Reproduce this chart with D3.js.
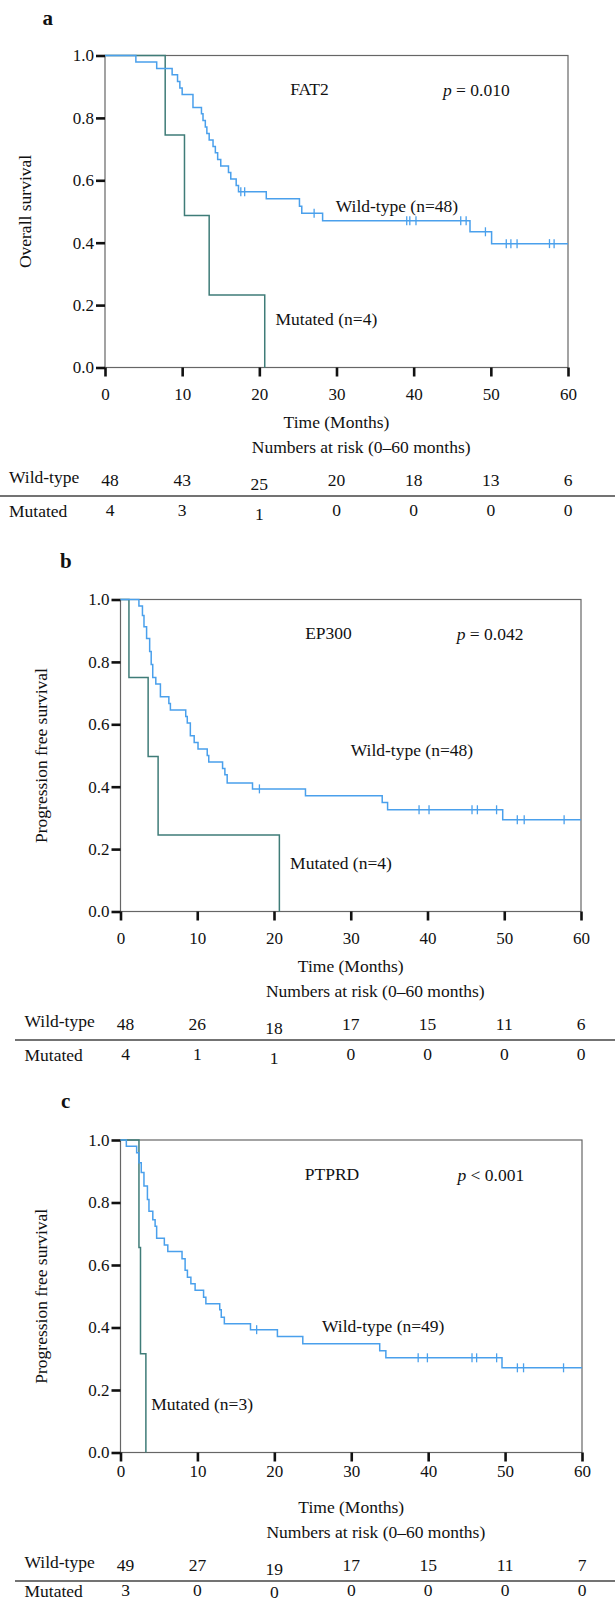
<!DOCTYPE html>
<html>
<head>
<meta charset="utf-8">
<script src="https://cdn.jsdelivr.net/npm/d3@7"></script>
<style>
  body { margin: 0; background: #fff; }
  text { font-family: "Liberation Serif", "Times New Roman", serif; fill: #111; }
</style>
</head>
<body>
<svg id="chart" width="615" height="1604"></svg>
<script>
// time grid for axis and numbers at risk
var months = [0, 10, 20, 30, 40, 50, 60];
var yTicks = [0, 0.2, 0.4, 0.6, 0.8, 1.0];

// panel a : FAT2, overall survival
var aWildT = [4.0, 6.7, 8.7, 9.4, 9.7, 10.0, 11.4, 12.5, 12.7, 13.0, 13.2, 13.5, 14.0, 14.3, 14.6, 15.0, 16.0, 16.3, 17.0, 17.3, 20.9, 25.2, 25.5, 28.2, 47.3, 50.1];
var aWildS = [0.979, 0.958, 0.938, 0.917, 0.896, 0.875, 0.833, 0.813, 0.792, 0.771, 0.75, 0.729, 0.708, 0.688, 0.667, 0.646, 0.625, 0.604, 0.583, 0.563, 0.541, 0.517, 0.494, 0.47, 0.435, 0.397];
var aWildCens = [17.6, 18.1, 27.1, 39.1, 39.5, 40.3, 46.1, 46.8, 49.3, 52.0, 52.6, 53.4, 57.6, 58.2];
var aMutT = [7.8, 10.3, 13.5, 20.7];
var aMutS = [0.745, 0.487, 0.232, 0];
var aRiskWild = [48, 43, 25, 20, 18, 13, 6];
var aRiskMut = [4, 3, 1, 0, 0, 0, 0];

// panel b : EP300, progression free survival
var bWildT = [2.4, 2.86, 3.06, 3.4, 3.8, 4.0, 4.2, 4.6, 5.2, 6.3, 6.5, 8.5, 8.7, 9.1, 9.6, 10.1, 11.3, 11.5, 13.3, 13.6, 13.9, 17.2, 24.1, 34.1, 34.8, 49.8];
var bWildS = [0.979, 0.949, 0.913, 0.875, 0.833, 0.792, 0.75, 0.729, 0.688, 0.667, 0.646, 0.625, 0.604, 0.563, 0.542, 0.521, 0.5, 0.479, 0.458, 0.438, 0.412, 0.393, 0.371, 0.349, 0.326, 0.294];
var bWildCens = [18.1, 38.9, 40.2, 45.8, 46.5, 49.0, 51.7, 52.6, 57.8];
var bMutT = [1.1, 3.6, 4.9, 20.7];
var bMutS = [0.75, 0.497, 0.245, 0];
var bRiskWild = [48, 26, 18, 17, 15, 11, 6];
var bRiskMut = [4, 1, 1, 0, 0, 0, 0];

// panel c : PTPRD, progression free survival
var cWildT = [0.76, 2.1, 2.4, 2.7, 3.05, 3.5, 3.7, 4.2, 4.5, 4.7, 5.7, 6.15, 8.0, 8.4, 8.7, 9.15, 9.7, 10.8, 11.1, 12.9, 13.1, 13.5, 16.9, 20.4, 23.7, 33.7, 34.5, 49.6];
var cWildS = [0.98, 0.959, 0.927, 0.896, 0.853, 0.81, 0.772, 0.745, 0.724, 0.686, 0.664, 0.643, 0.62, 0.583, 0.561, 0.54, 0.519, 0.497, 0.476, 0.457, 0.433, 0.412, 0.393, 0.371, 0.348, 0.326, 0.303, 0.271];
var cWildCens = [17.7, 38.7, 39.9, 45.7, 46.3, 48.9, 51.6, 52.4, 57.6];
var cMutT = [2.4, 2.6, 3.3];
var cMutS = [0.656, 0.316, 0];
var cRiskWild = [49, 27, 19, 17, 15, 11, 7];
var cRiskMut = [3, 0, 0, 0, 0, 0, 0];

var blue = "#4aa0ec", teal = "#3f7c78";
var svg = d3.select("#chart");
svg.append("rect").attr("width", 615).attr("height", 1604).attr("fill", "#fff");

function stepPoints(ts, ss, tEnd) {
    var pts = [[0, 1]];
    for (var i = 0; i < ts.length; i++) pts.push([ts[i], ss[i]]);
    if (tEnd != null) pts.push([tEnd, ss[ss.length - 1]]);
    return pts;
}
function survAt(ts, ss, t) {
    var s = 1;
    for (var i = 0; i < ts.length; i++) if (ts[i] <= t) s = ss[i];
    return s;
}

function drawPanel(p) {
    var g = svg.append("g");
    var x = d3.scaleLinear().domain([0, 60]).range([p.x0, p.x1]);
    var y = d3.scaleLinear().domain([0, 1]).range([p.y0, p.y1]);

    g.append("text").attr("x", p.lx).attr("y", p.ly)
        .style("font-weight", "bold").style("font-size", "21px").text(p.letter);

    // box
    g.append("rect").attr("x", p.x0).attr("y", p.y1)
        .attr("width", p.x1 - p.x0).attr("height", p.y0 - p.y1)
        .attr("fill", "none").attr("stroke", "#666").attr("stroke-width", 1.2);

    var ya = g.append("g").attr("transform", "translate(" + p.x0 + ",0)")
        .call(d3.axisLeft(y).tickValues(yTicks).tickFormat(d3.format(".1f")).tickSize(9).tickPadding(2));
    var xa = g.append("g").attr("transform", "translate(0," + p.y0 + ")")
        .call(d3.axisBottom(x).tickValues(months).tickSize(9).tickPadding(p.tickPad));
    [ya, xa].forEach(function(a) {
        a.select(".domain").remove();
        a.selectAll(".tick line").attr("stroke", "#111").attr("stroke-width", 2.6);
        a.selectAll(".tick text").style("font-family", "Liberation Serif").style("font-size", "17px").attr("fill", "#111");
    });

    g.append("text").attr("transform", "translate(" + (p.x0 - 74) + "," + ((p.y0 + p.y1) / 2) + ") rotate(-90)")
        .attr("text-anchor", "middle").style("font-size", "17.5px").text(p.ytitle);

    var line = d3.line().x(function(d) { return x(d[0]); }).y(function(d) { return y(d[1]); }).curve(d3.curveStepAfter);
    g.append("path").datum(stepPoints(p.mutT, p.mutS, null))
        .attr("d", line).attr("fill", "none").attr("stroke", teal).attr("stroke-width", 1.5);
    g.append("path").datum(stepPoints(p.wildT, p.wildS, 60))
        .attr("d", line).attr("fill", "none").attr("stroke", blue).attr("stroke-width", 1.5);
    g.selectAll(".cens").data(p.wildCens).enter().append("line")
        .attr("x1", function(d) { return x(d); }).attr("x2", function(d) { return x(d); })
        .attr("y1", function(d) { return y(survAt(p.wildT, p.wildS, d)) - 4.5; })
        .attr("y2", function(d) { return y(survAt(p.wildT, p.wildS, d)) + 4.5; })
        .attr("stroke", blue).attr("stroke-width", 1.3);

    // labels inside the plot
    g.append("text").attr("x", x(p.geneX)).attr("y", y(0.873)).attr("text-anchor", "middle")
        .style("font-size", "17.5px").text(p.gene);
    var pt = g.append("text").attr("x", x(43.8)).attr("y", y(0.869)).style("font-size", "17.5px");
    pt.append("tspan").style("font-style", "italic").text("p");
    pt.append("tspan").text(p.pval);
    g.append("text").attr("x", x(p.wildLx)).attr("y", y(p.wildLy)).style("font-size", "17.5px").text(p.wildLabel);
    g.append("text").attr("x", x(p.mutLx)).attr("y", y(0.136)).style("font-size", "17.5px").text(p.mutLabel);

    // x title and numbers at risk
    g.append("text").attr("x", x(30)).attr("y", p.y0 + 60.5).attr("text-anchor", "middle")
        .style("font-size", "17.5px").text("Time (Months)");
    g.append("text").attr("x", x(33.2)).attr("y", p.y0 + 85.5).attr("text-anchor", "middle")
        .style("font-size", "17.5px").text("Numbers at risk (0\u201360 months)");

    g.append("text").attr("x", p.x0 - 96).attr("y", p.y0 + 115).style("font-size", "17.5px").text("Wild-type");
    g.append("text").attr("x", p.x0 - 96).attr("y", p.y0 + p.mutRow).style("font-size", "17.5px").text("Mutated");
    g.append("line").attr("x1", p.ruleX).attr("x2", 615)
        .attr("y1", p.y0 + 128.5).attr("y2", p.y0 + 128.5)
        .attr("stroke", "#444").attr("stroke-width", 1.6);

    [[p.riskWild, 118.5, 3.5], [p.riskMut, p.mutRow - 0.5, p.mutDrop]].forEach(function(row) {
        g.selectAll(null).data(row[0]).enter().append("text")
            .attr("x", function(d, i) { return x(months[i]) + (i === 0 ? 5 : 0); })
            .attr("y", function(d, i) { return p.y0 + row[1] + (i === 2 ? row[2] : 0); })
            .attr("text-anchor", "middle").style("font-size", "17.5px")
            .text(function(d) { return d; });
    });
}

drawPanel({
    letter: "a", lx: 42.5, ly: 25, x0: 105, x1: 568, y1: 55.5, y0: 367.5, tickPad: 11.5, ruleX: 0, mutRow: 149, mutDrop: 3.5,
    ytitle: "Overall survival", gene: "FAT2", geneX: 26.5, pval: " = 0.010",
    wildLabel: "Wild-type (n=48)", wildLx: 29.9, wildLy: 0.5,
    mutLabel: "Mutated (n=4)", mutLx: 22.1,
    wildT: aWildT, wildS: aWildS, wildCens: aWildCens, mutT: aMutT, mutS: aMutS,
    riskWild: aRiskWild, riskMut: aRiskMut
});
drawPanel({
    letter: "b", lx: 60, ly: 568, x0: 120.5, x1: 581, y1: 599.5, y0: 911.5, tickPad: 11.5, ruleX: 15, mutRow: 149, mutDrop: 3.5,
    ytitle: "Progression free survival", gene: "EP300", geneX: 27.1, pval: " = 0.042",
    wildLabel: "Wild-type (n=48)", wildLx: 30.0, wildLy: 0.5,
    mutLabel: "Mutated (n=4)", mutLx: 22.1,
    wildT: bWildT, wildS: bWildS, wildCens: bWildCens, mutT: bMutT, mutS: bMutS,
    riskWild: bRiskWild, riskMut: bRiskMut
});
drawPanel({
    letter: "c", lx: 61, ly: 1108, x0: 120.5, x1: 582, y1: 1140, y0: 1452.5, tickPad: 3, ruleX: 15, mutRow: 144, mutDrop: 1.5,
    ytitle: "Progression free survival", gene: "PTPRD", geneX: 27.5, pval: " < 0.001",
    wildLabel: "Wild-type (n=49)", wildLx: 26.2, wildLy: 0.387,
    mutLabel: "Mutated (n=3)", mutLx: 4.0,
    wildT: cWildT, wildS: cWildS, wildCens: cWildCens, mutT: cMutT, mutS: cMutS,
    riskWild: cRiskWild, riskMut: cRiskMut
});
</script>
</body>
</html>
